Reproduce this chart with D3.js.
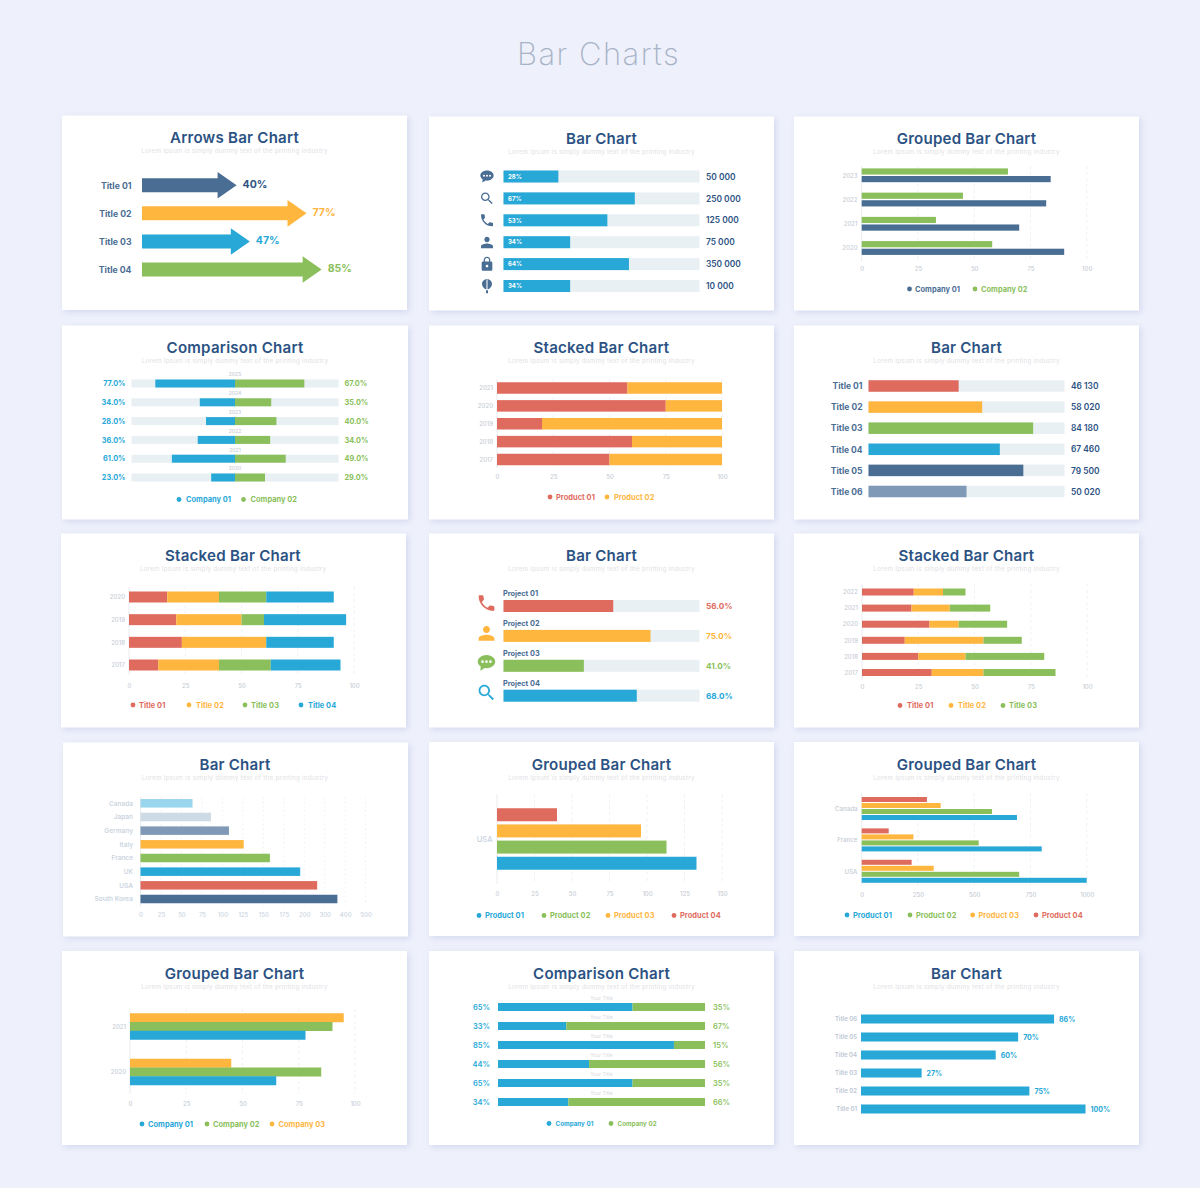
<!DOCTYPE html>
<html>
<head>
<meta charset="utf-8">
<title>Bar Charts</title>
<script src="https://cdn.jsdelivr.net/npm/d3@7"></script>
<style>
    html, body { margin: 0; padding: 0; background: #eef0fb; }
    svg { display: block; }
    text { font-family: Inter, "Open Sans", sans-serif; }
</style>
</head>
<body>
<div id="chart"></div>
<script>
// --- Colours ---
const NAVY = "#2b5283", DARK = "#4a6d94", SLATE = "#7f99b6", YELLOW = "#ffb63f", BLUE = "#27a8d7",
    GREEN = "#8abf5b", RED = "#df6b5e", TRACK = "#e9f0f3", PALE = "#c6ccd4";

// --- Data: one small set of lists per panel ---
const arrowTitles = ["Title 01", "Title 02", "Title 03", "Title 04"];
const arrowValues = [40, 77, 47, 85];

const iconRowValues = [28, 67, 53, 34, 64, 34];
const iconRowTotals = ["50 000", "250 000", "125 000", "75 000", "350 000", "10 000"];
const iconRowIcons = ["chat", "search", "phone", "person", "lock", "balloon"];

const groupedYears = ["2023", "2022", "2021", "2020"];
const groupedCompany01 = [84, 82, 70, 90];
const groupedCompany02 = [65, 45, 33, 58];

const comparisonYears = ["2025", "2024", "2023", "2022", "2021", "2020"];
const comparisonCompany01 = [77, 34, 28, 36, 61, 23];
const comparisonCompany02 = [67, 35, 40, 34, 49, 29];

const stackedYears = ["2021", "2020", "2019", "2018", "2017"];
const stackedProduct01 = [58, 75, 20, 60, 50];
const stackedProduct02 = [42, 25, 80, 40, 50];

const titleRowNames = ["Title 01", "Title 02", "Title 03", "Title 04", "Title 05", "Title 06"];
const titleRowValues = [46, 58, 84, 67, 79, 50];
const titleRowTotals = ["46 130", "58 020", "84 180", "67 460", "79 500", "50 020"];

const fourYears = ["2020", "2019", "2018", "2017"];
const fourTitle01 = [17, 21, 23.5, 13];
const fourTitle02 = [23, 29, 37.5, 27];
const fourTitle03 = [21, 10, 0, 23];
const fourTitle04 = [30, 36.5, 30, 31];

const projectNames = ["Project 01", "Project 02", "Project 03", "Project 04"];
const projectValues = [56, 75, 41, 68];
const projectIcons = ["phone", "person", "chat", "search"];

const threeYears = ["2022", "2021", "2020", "2019", "2018", "2017"];
const threeTitle01 = [23, 22, 30, 19, 25, 31];
const threeTitle02 = [13, 17, 13, 35, 21, 23];
const threeTitle03 = [10, 18, 21.5, 17, 35, 32];

const countryNames = ["Canada", "Japan", "Germany", "Italy", "France", "UK", "USA", "South Korea"];
const countryValues = [63.5, 86, 108, 126, 158, 195, 263, 362];
const countryTicks = [0, 25, 50, 75, 100, 125, 150, 175, 200, 300, 400, 500];

const usaGroup = ["USA"];
const usaProduct01 = [133];
const usaProduct02 = [113];
const usaProduct03 = [96];
const usaProduct04 = [40];

const marketGroups = ["Canada", "France", "USA"];
const marketProduct01 = [690, 800, 1000];
const marketProduct02 = [579, 520, 700];
const marketProduct03 = [351, 230, 320];
const marketProduct04 = [290, 120, 222];

const twoYears = ["2021", "2020"];
const twoCompany01 = [78, 65];
const twoCompany02 = [90, 85];
const twoCompany03 = [95, 45];

const shareCompany01 = [65, 33, 85, 44, 65, 34];
const shareCompany02 = [35, 67, 15, 56, 35, 66];

const lastNames = ["Title 06", "Title 05", "Title 04", "Title 03", "Title 02", "Title 01"];
const lastValues = [86, 70, 60, 27, 75, 100];

const ticks100 = [0, 25, 50, 75, 100];

// Small glyphs in a 24x24 box
const ICON_PATHS = {
    phone: "M6.62 10.79c1.44 2.83 3.76 5.14 6.59 6.59l2.2-2.2c.27-.27.67-.36 1.02-.24 1.12.37 2.33.57 3.57.57.55 0 1 .45 1 1V20c0 .55-.45 1-1 1-9.39 0-17-7.61-17-17 0-.55.45-1 1-1h3.5c.55 0 1 .45 1 1 0 1.25.2 2.45.57 3.57.11.35.03.74-.25 1.02l-2.2 2.2z",
    search: "M15.5 14h-.79l-.28-.27C15.41 12.59 16 11.11 16 9.5 16 5.91 13.09 3 9.5 3S3 5.91 3 9.5 5.91 16 9.5 16c1.61 0 3.09-.59 4.23-1.57l.27.28v.79l5 4.99L20.49 19l-4.99-5zm-6 0C7.01 14 5 11.99 5 9.5S7.01 5 9.5 5 14 7.01 14 9.5 11.99 14 9.5 14z",
    person: "M12 12c2.21 0 4-1.79 4-4s-1.79-4-4-4-4 1.79-4 4 1.79 4 4 4zm0 2c-2.67 0-9 1.34-9 4v3h18v-3c0-2.66-6.33-4-9-4z",
    lock: "M18 8h-1V6c0-2.76-2.24-5-5-5S7 3.24 7 6v2H6c-1.1 0-2 .9-2 2v10c0 1.1.9 2 2 2h12c1.1 0 2-.9 2-2V10c0-1.1-.9-2-2-2zm-6 9c-1.1 0-2-.9-2-2s.9-2 2-2 2 .9 2 2-.9 2-2 2zm3.1-9H8.9V6c0-1.71 1.39-3.1 3.1-3.1 1.71 0 3.1 1.39 3.1 3.1v2z",
    chat: "M12 3C6.5 3 2 6.4 2 10.6c0 2.3 1.3 4.3 3.4 5.7L5 21l5-3c.7.1 1.3.2 2 .2 5.5 0 10-3.4 10-7.6S17.500 3 12 3zM7.500 9.200a1.500 1.500 0 1 1 0 3 1.500 1.500 0 0 1 0-3zm4.500 0a1.500 1.500 0 1 1 0 3 1.500 1.500 0 0 1 0-3zm4.500 0a1.500 1.500 0 1 1 0 3 1.500 1.500 0 0 1 0-3z",
    balloon: "M12 1.500C8 1.500 4.500 5 4.500 9c0 3.500 3 6.500 5.500 8h1.200V1.900h1.600V17H14c2.500-1.500 5.500-4.500 5.500-8 0-4-3.500-7.500-7.500-7.500zM10.500 18.500h3V23h-3z"
};

const svg = d3.select("#chart").append("svg").attr("width", 1200).attr("height", 1188);

const defs = svg.append("defs");
defs.append("filter").attr("id", "cardShadow")
    .attr("x", "-5%").attr("y", "-5%").attr("width", "112%").attr("height", "115%")
    .append("feDropShadow")
    .attr("dx", 2).attr("dy", 2).attr("stdDeviation", 3)
    .attr("flood-color", "#bcc4e4").attr("flood-opacity", 0.55);

// --- Helpers ---
function addText(x, y, txt, opts) {
    return svg.append("text")
        .attr("x", x).attr("y", y).attr("dy", "0.38em")
        .attr("text-anchor", opts.anchor || "start")
        .attr("font-size", opts.size)
        .attr("font-weight", opts.weight || 600)
        .attr("letter-spacing", opts.spacing || 0)
        .attr("fill", opts.fill)
        .text(txt);
}

function addCard(x, y, w, h, title, titleY, titleX) {
    svg.append("rect").attr("x", x).attr("y", y).attr("width", w).attr("height", h)
        .attr("fill", "#fff").attr("filter", "url(#cardShadow)");
    const cx = titleX || (x + w / 2);
    addText(cx, titleY - 0.8, title, { anchor: "middle", size: 15.1, weight: 600, fill: NAVY, spacing: 0.22 });
    addText(cx, titleY + 13, "Lorem Ipsum is simply dummy text of the printing industry",
        { anchor: "middle", size: 6.3, weight: 400, fill: "#dfe1e5", spacing: 0.24 });
}

function addBar(x, yMid, x0, x1, h, fill) {
    svg.append("rect").attr("x", Math.min(x(x0), x(x1))).attr("y", yMid - h / 2)
        .attr("width", Math.abs(x(x1) - x(x0))).attr("height", h).attr("fill", fill);
}

function addGrid(x, tickValues, y0, y1, dash) {
    svg.append("g").selectAll("line").data(tickValues).join("line")
        .attr("x1", d => x(d)).attr("x2", d => x(d))
        .attr("y1", y0).attr("y2", y1)
        .attr("stroke", "#eef0f3").attr("stroke-width", 1).attr("stroke-dasharray", dash || "3,3");
    svg.append("line").attr("x1", x.range()[0]).attr("x2", x.range()[0]).attr("y1", y0).attr("y2", y1)
        .attr("stroke", "#e9ecef").attr("stroke-width", 1);
}

function addAxis(x, tickValues, y, fill) {
    svg.append("g").attr("transform", `translate(0,${y})`)
        .call(d3.axisBottom(x).tickValues(tickValues).tickSize(0).tickPadding(0).tickFormat(d => d))
        .call(g => g.select(".domain").remove())
        .call(g => g.selectAll("text")
            .attr("dy", "0.38em")
            .attr("font-family", "Inter, sans-serif")
            .attr("font-size", 6)
            .attr("font-weight", 500)
            .attr("fill", fill || PALE));
}

function addLegend(y, labels, colors, dotXs, textXs, size) {
    labels.forEach((label, i) => {
        svg.append("circle").attr("cx", dotXs[i]).attr("cy", y).attr("r", 2.4).attr("fill", colors[i]);
        addText(textXs[i], y, label, { size: size || 7.4, weight: 700, fill: colors[i], spacing: 0.05 });
    });
}

function addIcon(name, cx, cy, size, fill) {
    svg.append("path")
        .attr("d", ICON_PATHS[name])
        .attr("fill-rule", "evenodd")
        .attr("fill", fill)
        .attr("transform", `translate(${cx - size / 2},${cy - size / 2}) scale(${size / 24})`);
}

function addRowLabels(y, names, xPos, opts) {
    names.forEach(name => addText(xPos, y(name), name, Object.assign({ anchor: "end" }, opts)));
}

// Stacked rows, d3.stack gives the running totals of the series lists
function drawStacked(x, y, rows, seriesLists, colors, h) {
    const stacked = d3.stack()
        .keys(d3.range(seriesLists.length))
        .value((row, k) => seriesLists[k][row])(d3.range(rows.length));
    stacked.forEach((layer, k) => {
        layer.forEach((seg, i) => {
            if (seg[1] > seg[0]) addBar(x, y(rows[i]), seg[0], seg[1], h, colors[k]);
        });
    });
}

// Grouped rows, the first list in seriesLists is drawn on top within each group
function drawGrouped(x, y, inner, rows, seriesLists, colors, h) {
    seriesLists.forEach((list, k) => {
        rows.forEach((row, i) => addBar(x, y(row) + inner(k), 0, list[i], h, colors[k]));
    });
}

function pointScale(domain, a, b) {
    return d3.scalePoint().domain(domain).range([a, b]);
}

// --- Page title ---
addText(598.5, 53, "Bar Charts", { anchor: "middle", size: 31, weight: 200, fill: "#a7b3c6", spacing: 1.5 });

// --- Row 1: arrows ---
(function () {
    addCard(62, 115.5, 345, 194.5, "Arrows Bar Chart", 138);
    const x = d3.scaleLinear().domain([0, 100]).range([142, 331]);
    const y = pointScale(arrowTitles, 185.3, 269.5);
    const colors = [DARK, YELLOW, BLUE, GREEN];
    const valueColors = [NAVY, YELLOW, BLUE, GREEN];
    const drawArrow = d3.line();
    arrowTitles.forEach((t, i) => {
        const cy = y(t), end = x(arrowValues[i]);
        svg.append("path").attr("fill", colors[i]).attr("d", drawArrow([
            [x(0), cy - 7], [end, cy - 7], [end, cy - 13.3], [end + 19, cy],
            [end, cy + 13.3], [end, cy + 7], [x(0), cy + 7]
        ]) + "Z");
        addText(131.5, cy + 0.5, t, { anchor: "end", size: 8.7, weight: 700, fill: DARK });
        addText(end + 25, cy - 1, arrowValues[i] + "%", { size: 10.5, weight: 700, fill: valueColors[i] });
    });
})();

// --- Row 1: icon rows ---
(function () {
    addCard(429, 116.5, 345, 194, "Bar Chart", 139);
    const x = d3.scaleLinear().domain([0, 100]).range([503.5, 699.5]);
    const y = pointScale(iconRowValues.map((d, i) => i), 176.5, 286);
    iconRowValues.forEach((v, i) => {
        addBar(x, y(i), 0, 100, 12, TRACK);
        addBar(x, y(i), 0, v, 12, BLUE);
        addText(x(0) + 4.500, y(i), v + "%", { size: 6, weight: 700, fill: "#fff" });
        addText(706, y(i), iconRowTotals[i], { size: 8.400, weight: 600, fill: NAVY });
        addIcon(iconRowIcons[i], 487, y(i), 16, DARK);
    });
})();

// --- Row 1: grouped, two series ---
(function () {
    addCard(794, 116.5, 345, 194, "Grouped Bar Chart", 139);
    const x = d3.scaleLinear().domain([0, 100]).range([861.7, 1086.7]);
    const y = pointScale(groupedYears, 175.3, 248);
    const inner = pointScale([0, 1], -3.8, 3.8);
    addGrid(x, ticks100.slice(1), 166, 262);
    drawGrouped(x, y, inner, groupedYears, [groupedCompany02, groupedCompany01], [GREEN, DARK], 6.2);
    addRowLabels(y, groupedYears, 857.5, { size: 6, weight: 500, fill: PALE });
    addAxis(x, ticks100, 268.7);
    addLegend(289, ["Company 01", "Company 02"], [DARK, GREEN], [909.5, 975], [915, 981]);
})();

// --- Row 2: comparison around a middle line ---
(function () {
    addCard(62, 325.5, 346, 194, "Comparison Chart", 348);
    const left = d3.scaleLinear().domain([0, 100]).range([235, 131.5]);
    const right = d3.scaleLinear().domain([0, 100]).range([235, 338.5]);
    const y = pointScale(comparisonYears, 383.5, 477.5);
    comparisonYears.forEach((year, i) => {
        addBar(left, y(year), 0, 100, 8, TRACK);
        addBar(right, y(year), 0, 100, 8, TRACK);
        addBar(left, y(year), 0, comparisonCompany01[i], 8, BLUE);
        addBar(right, y(year), 0, comparisonCompany02[i], 8, GREEN);
        addText(235, y(year) - 9, year, { anchor: "middle", size: 5, weight: 500, fill: PALE });
        addText(125.5, y(year), comparisonCompany01[i].toFixed(1) + "%", { anchor: "end", size: 7.300, weight: 700, fill: BLUE });
        addText(344.5, y(year), comparisonCompany02[i].toFixed(1) + "%", { size: 7.300, weight: 700, fill: GREEN });
    });
    addLegend(499.5, ["Company 01", "Company 02"], [BLUE, GREEN], [179, 243.5], [186, 250.5]);
})();

// --- Row 2: stacked, two series ---
(function () {
    addCard(429, 325.5, 345, 194, "Stacked Bar Chart", 348);
    const x = d3.scaleLinear().domain([0, 100]).range([497, 722]);
    const y = pointScale(stackedYears, 388, 459.5);
    addGrid(x, ticks100.slice(1), 379, 468);
    drawStacked(x, y, stackedYears, [stackedProduct01, stackedProduct02], [RED, YELLOW], 11.5);
    addRowLabels(y, stackedYears, 493, { size: 6, weight: 500, fill: PALE });
    addAxis(x, ticks100, 477);
    addLegend(497, ["Product 01", "Product 02"], [RED, YELLOW], [550, 607], [556, 614]);
})();

// --- Row 2: named rows ---
(function () {
    addCard(794, 325.5, 345, 194, "Bar Chart", 348);
    const x = d3.scaleLinear().domain([0, 100]).range([868.5, 1064.5]);
    const y = pointScale(titleRowNames, 386, 491.5);
    const colors = [RED, YELLOW, GREEN, BLUE, DARK, SLATE];
    titleRowNames.forEach((name, i) => {
        addBar(x, y(name), 0, 100, 11.5, TRACK);
        addBar(x, y(name), 0, titleRowValues[i], 11.5, colors[i]);
        addText(1071, y(name), titleRowTotals[i], { size: 8.400, weight: 600, fill: NAVY });
    });
    addRowLabels(y, titleRowNames, 862.5, { size: 8.500, weight: 700, fill: DARK });
})();

// --- Row 3: stacked, four series ---
(function () {
    addCard(61, 533.5, 345, 194, "Stacked Bar Chart", 556, 233);
    const x = d3.scaleLinear().domain([0, 100]).range([129, 354]);
    const y = pointScale(fourYears, 597, 665);
    addGrid(x, ticks100.slice(1), 587, 675);
    drawStacked(x, y, fourYears, [fourTitle01, fourTitle02, fourTitle03, fourTitle04], [RED, YELLOW, GREEN, BLUE], 11);
    addRowLabels(y, fourYears, 125, { size: 6, weight: 500, fill: PALE });
    addAxis(x, ticks100, 686);
    addLegend(705, ["Title 01", "Title 02", "Title 03", "Title 04"], [RED, YELLOW, GREEN, BLUE],
        [133, 189, 245, 301], [139, 196, 251, 308]);
})();

// --- Row 3: projects ---
(function () {
    addCard(429, 533.5, 345, 194, "Bar Chart", 556);
    const x = d3.scaleLinear().domain([0, 100]).range([503.5, 699.5]);
    const y = pointScale(projectNames, 606, 695.7);
    const colors = [RED, YELLOW, GREEN, BLUE];
    projectNames.forEach((name, i) => {
        addBar(x, y(name), 0, 100, 12, TRACK);
        addBar(x, y(name), 0, projectValues[i], 12, colors[i]);
        addText(503, y(name) - 12.5, name, { size: 7.300, weight: 700, fill: DARK });
        addText(706, y(name), projectValues[i].toFixed(1) + "%", { size: 8.200, weight: 700, fill: colors[i] });
        addIcon(projectIcons[i], 486.5, y(name) - 3, 21, colors[i]);
    });
})();

// --- Row 3: stacked, three series ---
(function () {
    addCard(794, 533.5, 345, 194, "Stacked Bar Chart", 556);
    const x = d3.scaleLinear().domain([0, 100]).range([862, 1087]);
    const y = pointScale(threeYears, 592, 672.5);
    addGrid(x, ticks100.slice(1), 584, 680);
    drawStacked(x, y, threeYears, [threeTitle01, threeTitle02, threeTitle03], [RED, YELLOW, GREEN], 7);
    addRowLabels(y, threeYears, 858, { size: 6, weight: 500, fill: PALE });
    addAxis(x, ticks100, 687);
    addLegend(705.5, ["Title 01", "Title 02", "Title 03"], [RED, YELLOW, GREEN], [900, 951, 1003], [907, 958, 1009]);
})();

// --- Row 4: countries, the axis changes step after 200 ---
(function () {
    addCard(63, 742.5, 345, 194, "Bar Chart", 765, 235);
    const x = d3.scaleLinear().domain([0, 200, 500]).range([140.5, 304.3, 365.6]);
    const y = pointScale(countryNames, 803.3, 899);
    const colors = ["#99d5ec", "#cddbe6", SLATE, YELLOW, GREEN, BLUE, RED, DARK];
    addGrid(x, countryTicks.slice(1), 797, 906, "1.5,3");
    countryNames.forEach((name, i) => addBar(x, y(name), 0, countryValues[i], 8.5, colors[i]));
    addRowLabels(y, countryNames, 133, { size: 6.500, weight: 600, fill: "#cbd5df" });
    addAxis(x, countryTicks, 914.7, "#cbd5df");
})();

// --- Row 4: one group, four series ---
(function () {
    addCard(429, 742, 345, 194, "Grouped Bar Chart", 765);
    const x = d3.scaleLinear().domain([0, 150]).range([497, 722]);
    const y = pointScale(usaGroup, 839, 839);
    const inner = pointScale([0, 1, 2, 3], -24.25, 24.25);
    addGrid(x, [25, 50, 75, 100, 125, 150], 794, 884);
    drawGrouped(x, y, inner, usaGroup, [usaProduct04, usaProduct03, usaProduct02, usaProduct01], [RED, YELLOW, GREEN, BLUE], 13);
    addRowLabels(y, usaGroup, 492.5, { size: 7.500, weight: 500, fill: "#c6d3de" });
    addAxis(x, [0, 25, 50, 75, 100, 125, 150], 894);
    addLegend(915.5, ["Product 01", "Product 02", "Product 03", "Product 04"], [BLUE, GREEN, YELLOW, RED],
        [479, 544, 608, 674], [485, 550, 614, 680]);
})();

// --- Row 4: three groups, four series ---
(function () {
    addCard(794, 742, 345, 194, "Grouped Bar Chart", 765);
    const x = d3.scaleLinear().domain([0, 1000]).range([861.7, 1086.7]);
    const y = pointScale(marketGroups, 808.500, 871.300);
    const inner = pointScale([0, 1, 2, 3], -9, 9);
    addGrid(x, [250, 500, 750, 1000], 793, 886);
    drawGrouped(x, y, inner, marketGroups, [marketProduct04, marketProduct03, marketProduct02, marketProduct01], [RED, YELLOW, GREEN, BLUE], 5);
    addRowLabels(y, marketGroups, 857.5, { size: 6.200, weight: 500, fill: PALE });
    addAxis(x, [0, 250, 500, 750, 1000], 895);
    addLegend(915, ["Product 01", "Product 02", "Product 03", "Product 04"], [BLUE, GREEN, YELLOW, RED],
        [847, 910, 972.7, 1036], [853, 916, 978.5, 1042]);
})();

// --- Row 5: two groups, three series ---
(function () {
    addCard(62, 951, 345, 194, "Grouped Bar Chart", 974);
    const x = d3.scaleLinear().domain([0, 100]).range([130, 355]);
    const y = pointScale(twoYears, 1026.5, 1072);
    const inner = pointScale([0, 1, 2], -8.75, 8.75);
    addGrid(x, ticks100.slice(1), 1009, 1094);
    drawGrouped(x, y, inner, twoYears, [twoCompany03, twoCompany02, twoCompany01], [YELLOW, GREEN, BLUE], 9);
    addRowLabels(y, twoYears, 126, { size: 6, weight: 500, fill: PALE });
    addAxis(x, ticks100, 1104);
    addLegend(1124, ["Company 01", "Company 02", "Company 03"], [BLUE, GREEN, YELLOW], [142, 207, 272], [148, 213, 278.5]);
})();

// --- Row 5: shares adding up to 100 ---
(function () {
    addCard(429, 951, 345, 194, "Comparison Chart", 974);
    const x = d3.scaleLinear().domain([0, 100]).range([498, 705]);
    const y = pointScale(shareCompany01.map((d, i) => i), 1007, 1102);
    drawStacked(x, y, y.domain(), [shareCompany01, shareCompany02], [BLUE, GREEN], 8);
    y.domain().forEach(i => {
        addText(601.5, y(i) - 9, "Your Title", { anchor: "middle", size: 5, weight: 400, fill: "#d7dae0" });
        addText(490, y(i), shareCompany01[i] + "%", { anchor: "end", size: 7.500, weight: 600, fill: BLUE });
        addText(713, y(i), shareCompany02[i] + "%", { size: 7.500, weight: 600, fill: GREEN });
    });
    addLegend(1123.5, ["Company 01", "Company 02"], [BLUE, GREEN], [549, 611], [555.5, 617.5], 6.2);
})();

// --- Row 5: single colour rows ---
(function () {
    addCard(794, 951, 345, 194, "Bar Chart", 974);
    const x = d3.scaleLinear().domain([0, 100]).range([861, 1085.5]);
    const y = pointScale(lastNames, 1019, 1109);
    lastNames.forEach((name, i) => {
        addBar(x, y(name), 0, lastValues[i], 9, BLUE);
        addText(x(lastValues[i]) + 5, y(name), lastValues[i] + "%", { size: 7, weight: 700, fill: BLUE });
    });
    addRowLabels(y, lastNames, 857, { size: 6, weight: 600, fill: "#bcc6d2" });
})();
</script>
</body>
</html>
